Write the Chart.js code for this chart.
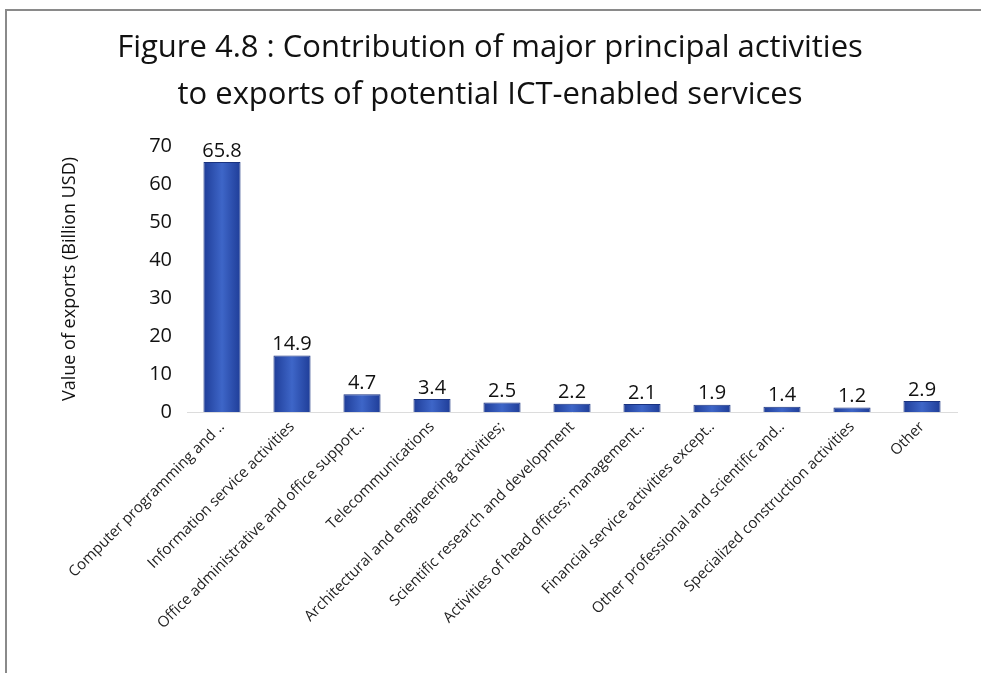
<!DOCTYPE html>
<html>
<head>
<meta charset="utf-8">
<script src="https://cdn.jsdelivr.net/npm/chart.js@4/dist/chart.umd.min.js"></script>
<style>
  html, body { margin: 0; padding: 0; background: #fff; }
  #frame { position: absolute; left: 5px; top: 9px; width: 980px; height: 670px; border-left: 2px solid #8a8a8a; border-top: 2px solid #8a8a8a; }
  #wrap { position: absolute; left: 0; top: 0; width: 981px; height: 673px; }
</style>
</head>
<body>
<div id="frame"></div>
<div id="wrap"><canvas id="exportsChart" width="981" height="673"></canvas></div>
<script>
var categories = [
  'Computer programming and ..',
  'Information service activities',
  'Office administrative and office support..',
  'Telecommunications',
  'Architectural and engineering activities;',
  'Scientific research and development',
  'Activities of head offices; management..',
  'Financial service activities except..',
  'Other professional and scientific and..',
  'Specialized construction activities',
  'Other'
];
var exportValues = [65.8, 14.9, 4.7, 3.4, 2.5, 2.2, 2.1, 1.9, 1.4, 1.2, 2.9];
var yTicks = [0, 10, 20, 30, 40, 50, 60, 70];

var valueLabels = {
  id: 'valueLabels',
  afterDatasetsDraw: function(chart){
    var ctx = chart.ctx;
    var meta = chart.getDatasetMeta(0);
    ctx.save();
    ctx.fillStyle = '#111';
    ctx.font = '20px "Open Sans", sans-serif';
    ctx.textAlign = 'center';
    ctx.textBaseline = 'bottom';
    meta.data.forEach(function(bar, i){
      ctx.fillText(exportValues[i].toFixed(1), bar.x, bar.y - 1);
    });
    ctx.restore();
  }
};

var barShade = {
  id: 'barShade',
  beforeDatasetsDraw: function(chart){
    var ctx = chart.ctx;
    chart.getDatasetMeta(0).data.forEach(function(bar){
      var half = bar.width / 2;
      var g = ctx.createLinearGradient(bar.x - half, 0, bar.x + half, 0);
      g.addColorStop(0, '#1f3d98');
      g.addColorStop(0.5, '#3e66c8');
      g.addColorStop(1, '#1f3d98');
      bar.options = Object.assign({}, bar.options, { backgroundColor: g });
    });
  }
};

new Chart(document.getElementById('exportsChart'), {
  type: 'bar',
  data: {
    labels: categories,
    datasets: [{
      data: exportValues,
      backgroundColor: '#2d52b5',
      borderColor: '#1a3380',
      borderWidth: 1,
      barPercentage: 0.53,
      categoryPercentage: 1
    }]
  },
  options: {
    responsive: false,
    animation: false,
    devicePixelRatio: 1,
    layout: { padding: { left: 23, right: 24, top: 25, bottom: 0 } },
    plugins: {
      legend: { display: false },
      tooltip: { enabled: false },
      title: {
        display: true,
        text: ['Figure 4.8 : Contribution of major principal activities', 'to exports of potential ICT-enabled services'],
        color: '#111',
        font: { family: 'Open Sans', size: 31, weight: 'normal', lineHeight: 1.5 },
        padding: { top: 0, bottom: 28 }
      }
    },
    scales: {
      x: {
        afterFit: function(axis){ axis.height = 261; },
        grid: { display: false, drawTicks: false },
        border: { display: true, color: '#dcdcdc' },
        ticks: {
          color: '#222',
          font: { family: 'Open Sans', size: 15 },
          maxRotation: 45,
          minRotation: 45,
          autoSkip: false,
          padding: 6
        }
      },
      y: {
        min: 0,
        max: 70,
        afterFit: function(axis){ axis.width = 164; },
        afterBuildTicks: function(axis){ axis.ticks = yTicks.map(function(v){ return { value: v }; }); },
        grid: { display: false, drawTicks: false },
        border: { display: false },
        ticks: {
          color: '#111',
          font: { family: 'Open Sans', size: 20 },
          padding: 15
        },
        title: {
          display: true,
          text: 'Value of exports (Billion USD)',
          color: '#111',
          font: { family: 'Open Sans', size: 18 },
          padding: { top: 36, bottom: 0 }
        }
      }
    }
  },
  plugins: [barShade, valueLabels]
});
</script>
</body>
</html>
